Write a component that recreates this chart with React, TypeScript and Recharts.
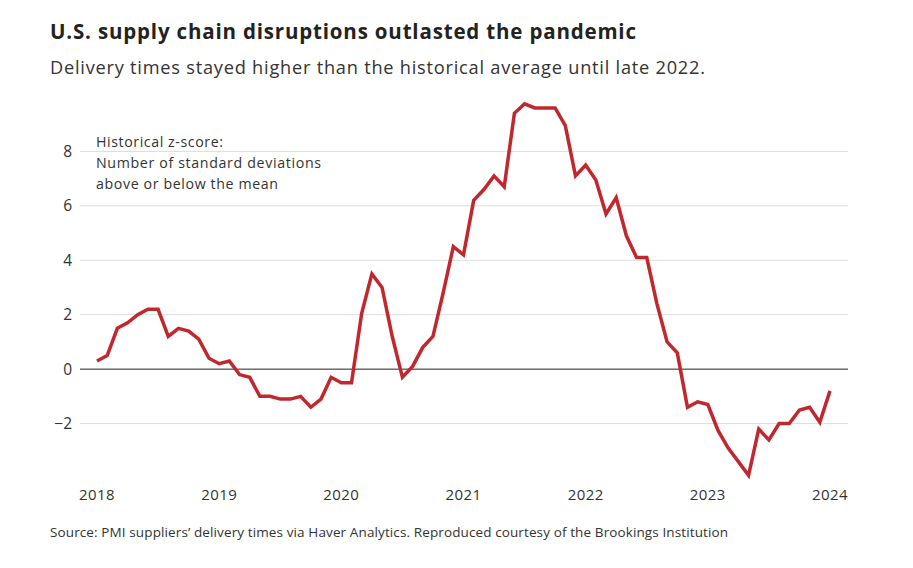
import React from "react";
import { LineChart, Line, XAxis, YAxis, ReferenceLine } from "recharts";

const months: number[] = Array.from({ length: 73 }, (_, i) => i);

const values2018 = [0.3, 0.5, 1.5, 1.7, 2.0, 2.2, 2.2, 1.2, 1.5, 1.4, 1.1, 0.4];
const values2019 = [0.2, 0.3, -0.2, -0.3, -1.0, -1.0, -1.1, -1.1, -1.0, -1.4, -1.1, -0.3];
const values2020 = [-0.5, -0.5, 2.05, 3.5, 3.0, 1.2, -0.3, 0.1, 0.8, 1.2, 2.8, 4.5];
const values2021 = [4.2, 6.2, 6.6, 7.1, 6.7, 9.4, 9.75, 9.6, 9.6, 9.6, 8.95, 7.1];
const values2022 = [7.5, 6.95, 5.7, 6.3, 4.9, 4.1, 4.1, 2.4, 1.0, 0.6, -1.4, -1.2];
const values2023 = [-1.3, -2.25, -2.9, -3.4, -3.9, -2.2, -2.6, -2.0, -2.0, -1.5, -1.4, -1.95];
const values2024 = [-0.8];

const zScores = [
  ...values2018,
  ...values2019,
  ...values2020,
  ...values2021,
  ...values2022,
  ...values2023,
  ...values2024,
];

const xTicks = [0, 12, 24, 36, 48, 60, 72];
const yearLabels = ["2018", "2019", "2020", "2021", "2022", "2023", "2024"];
const yTicks = [-2, 0, 2, 4, 6, 8];
const gridValues = [-2, 2, 4, 6, 8];

const data = months.map((m) => ({ m, z: zScores[m] }));

const FONT = "'Open Sans', Roboto, 'Liberation Sans', sans-serif";

export default function App() {
  return (
    <div style={{ position: "absolute", left: 0, top: 0, width: 913, height: 568, background: "#fff", fontFamily: FONT }}>
      <LineChart
        width={913}
        height={568}
        data={data}
        margin={{ top: 97, right: 65, left: 0, bottom: 60 }}
        style={{ position: "absolute", left: 0, top: 0 }}
      >
        {gridValues.map((v) => (
          <ReferenceLine key={v} y={v} stroke="#dddddd" strokeWidth={1} />
        ))}
        <XAxis
          dataKey="m"
          type="number"
          domain={[0, 72]}
          ticks={xTicks}
          tickFormatter={(v: number) => yearLabels[xTicks.indexOf(v)]}
          padding={{ left: 17, right: 18 }}
          axisLine={false}
          tickLine={false}
          tickSize={0}
          tickMargin={11}
          height={30}
          tick={{ fill: "#333", fontSize: 15, fontFamily: FONT, letterSpacing: 0.4 }}
          interval={0}
        />
        <YAxis
          type="number"
          domain={[-4, 10]}
          ticks={yTicks}
          tickFormatter={(v: number) => (v < 0 ? "\u2212" + Math.abs(v) : String(v))}
          axisLine={false}
          tickLine={false}
          width={80}
          tick={{ fill: "#333", fontSize: 15.5, fontFamily: FONT }}
          interval={0}
        />
        <ReferenceLine y={0} stroke="#222" strokeWidth={1} />
        <Line
          type="linear"
          dataKey="z"
          stroke="#c1282d"
          strokeWidth={3.5}
          dot={false}
          activeDot={false}
          isAnimationActive={false}
        />
      </LineChart>
      <svg width={913} height={568} style={{ position: "absolute", left: 0, top: 0, pointerEvents: "none" }}>
        <text x={50} y={39} fontFamily={FONT} fontSize={20.5} fontWeight={700} fill="#222" textLength={586} lengthAdjust="spacing">
          U.S. supply chain disruptions outlasted the pandemic
        </text>
        <text x={50} y={74.3} fontFamily={FONT} fontSize={18.2} fill="#333" textLength={655} lengthAdjust="spacing">
          Delivery times stayed higher than the historical average until late 2022.
        </text>
        <text x={96} y={146.7} fontFamily={FONT} fontSize={14.2} fill="#333" textLength={127} lengthAdjust="spacing">
          Historical z-score:
        </text>
        <text x={96} y={168} fontFamily={FONT} fontSize={14.2} fill="#333" textLength={225} lengthAdjust="spacing">
          Number of standard deviations
        </text>
        <text x={96} y={189} fontFamily={FONT} fontSize={14.2} fill="#333" textLength={182} lengthAdjust="spacing">
          above or below the mean
        </text>
        <text x={50} y={537} fontFamily={FONT} fontSize={13.5} fill="#333" textLength={678} lengthAdjust="spacing">
          Source: PMI suppliers’ delivery times via Haver Analytics. Reproduced courtesy of the Brookings Institution
        </text>
      </svg>
    </div>
  );
}
